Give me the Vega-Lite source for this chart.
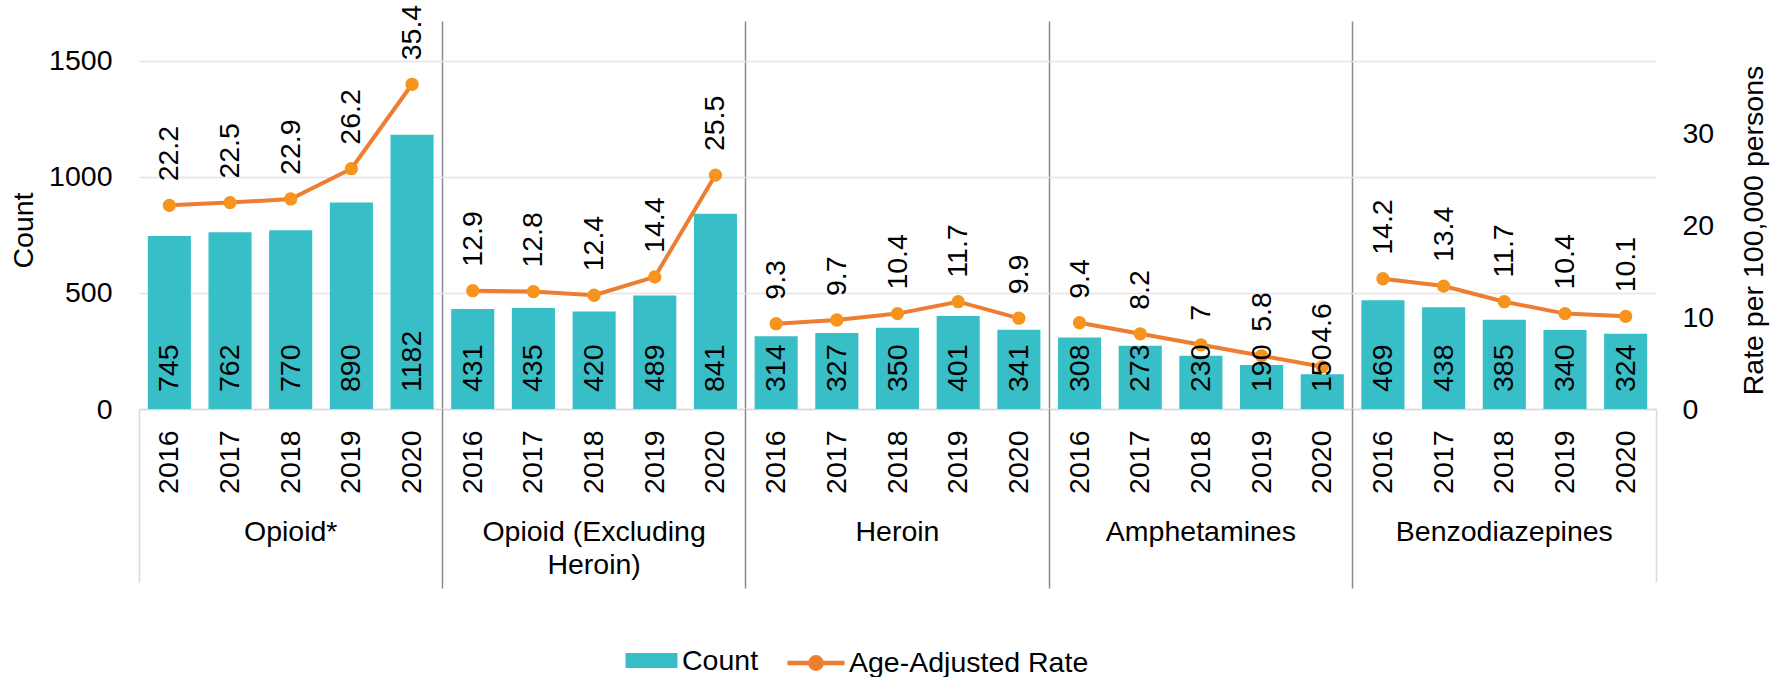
{
  "$schema": "https://vega.github.io/schema/vega-lite/v6.json",
  "width": 1517,
  "height": 388,
  "autosize": {"type": "none"},
  "padding": {"left": 139, "top": 21, "right": 127, "bottom": 268},
  "background": "white",
  "config": {
    "font": "Liberation Sans",
    "view": {"stroke": null},
    "axis": {
      "labelFont": "Liberation Sans",
      "titleFont": "Liberation Sans",
      "labelFontSize": 28.5,
      "titleFontSize": 28.5,
      "titleFontWeight": "normal",
      "labelColor": "#000000",
      "titleColor": "#000000",
      "labelOverlap": false
    },
    "legend": {"labelFont": "Liberation Sans", "labelFontSize": 28.5, "labelColor": "#000000", "labelLimit": 400, "padding": 0}
  },
  "data": {
    "values": [
      {"drug": "Opioid*", "year": "2016", "count": 745, "rate": 22.2},
      {"drug": "Opioid*", "year": "2017", "count": 762, "rate": 22.5},
      {"drug": "Opioid*", "year": "2018", "count": 770, "rate": 22.9},
      {"drug": "Opioid*", "year": "2019", "count": 890, "rate": 26.2},
      {"drug": "Opioid*", "year": "2020", "count": 1182, "rate": 35.4},
      {"drug": "Opioid (Excluding Heroin)", "year": "2016", "count": 431, "rate": 12.9},
      {"drug": "Opioid (Excluding Heroin)", "year": "2017", "count": 435, "rate": 12.8},
      {"drug": "Opioid (Excluding Heroin)", "year": "2018", "count": 420, "rate": 12.4},
      {"drug": "Opioid (Excluding Heroin)", "year": "2019", "count": 489, "rate": 14.4},
      {"drug": "Opioid (Excluding Heroin)", "year": "2020", "count": 841, "rate": 25.5},
      {"drug": "Heroin", "year": "2016", "count": 314, "rate": 9.3},
      {"drug": "Heroin", "year": "2017", "count": 327, "rate": 9.7},
      {"drug": "Heroin", "year": "2018", "count": 350, "rate": 10.4},
      {"drug": "Heroin", "year": "2019", "count": 401, "rate": 11.7},
      {"drug": "Heroin", "year": "2020", "count": 341, "rate": 9.9},
      {"drug": "Amphetamines", "year": "2016", "count": 308, "rate": 9.4},
      {"drug": "Amphetamines", "year": "2017", "count": 273, "rate": 8.2},
      {"drug": "Amphetamines", "year": "2018", "count": 230, "rate": 7},
      {"drug": "Amphetamines", "year": "2019", "count": 190, "rate": 5.8},
      {"drug": "Amphetamines", "year": "2020", "count": 150, "rate": 4.6},
      {"drug": "Benzodiazepines", "year": "2016", "count": 469, "rate": 14.2},
      {"drug": "Benzodiazepines", "year": "2017", "count": 438, "rate": 13.4},
      {"drug": "Benzodiazepines", "year": "2018", "count": 385, "rate": 11.7},
      {"drug": "Benzodiazepines", "year": "2019", "count": 340, "rate": 10.4},
      {"drug": "Benzodiazepines", "year": "2020", "count": 324, "rate": 10.1}
    ]
  },
  "transform": [
    {"calculate": "datum.drug + '|' + datum.year", "as": "slot"}
  ],
  "resolve": {"scale": {"y": "independent"}, "axis": {"x": "independent", "y": "independent"}},
  "layer": [
    {
      "mark": {"type": "bar", "width": {"band": 0.71}, "opacity": 1},
      "encoding": {
        "x": {
          "field": "slot", "type": "nominal", "sort": null,
          "scale": {"paddingInner": 0, "paddingOuter": 0},
          "axis": {
            "orient": "bottom",
            "title": null,
            "labelExpr": "split(datum.label, '|')[1]",
            "labelAngle": 270,
            "labelAlign": "right",
            "labelBaseline": "middle",
            "labelPadding": 21,
            "ticks": false,
            "grid": false,
            "domain": true,
            "domainColor": "#D9D9D9",
            "domainWidth": 1.5
          }
        },
        "y": {
          "field": "count", "type": "quantitative",
          "scale": {"domain": [0, 1672], "nice": false},
          "axis": {
            "orient": "left",
            "title": "Count",
            "values": [0, 500, 1000, 1500],
            "format": "d",
            "grid": true,
            "gridColor": "#E4E4E4",
            "gridWidth": 1.5,
            "domain": false,
            "ticks": false,
            "labelPadding": 27,
            "titleAngle": 270,
            "titleBaseline": "middle",
            "titleAlign": "center",
            "titleX": -116,
            "titleY": 209
          }
        },
        "fill": {
          "datum": "Count",
          "scale": {"range": ["#37BEC6"]},
          "legend": {
            "title": null,
            "orient": "none",
            "legendX": 484,
            "legendY": 611,
            "labelOffset": 2,
            "symbolType": "M-0.912,-0.263H0.912V0.263H-0.912Z",
            "symbolSize": 3249,
            "symbolStrokeWidth": 0,
            "symbolOpacity": 1
          }
        }
      }
    },
    {
      "resolve": {"axis": {"x": "independent", "y": "independent"}},
      "layer": [
        {
          "mark": {"type": "line", "strokeWidth": 4, "opacity": 1},
          "encoding": {
            "x": {
              "field": "slot", "type": "nominal", "sort": null,
              "scale": {"paddingInner": 0, "paddingOuter": 0},
              "axis": {
                "orient": "bottom",
                "title": null,
                "values": ["Opioid (Excluding Heroin)|2016", "Heroin|2016", "Amphetamines|2016", "Benzodiazepines|2016"],
                "bandPosition": 0,
                "labels": false,
                "ticks": true,
                "tickSize": 179,
                "tickColor": "#8A8A8A",
                "tickWidth": 1.5,
                "grid": true,
                "gridColor": "#8A8A8A",
                "gridWidth": 1.5,
                "domain": false
              }
            },
            "y": {
              "field": "rate", "type": "quantitative",
              "scale": {"domain": [0, 42.3], "nice": false},
              "axis": {
                "orient": "right",
                "title": "Rate per 100,000 persons",
                "values": [0, 10, 20, 30],
                "grid": false,
                "domain": false,
                "ticks": false,
                "labelPadding": 26,
                "titleAngle": 270,
                "titleBaseline": "middle",
                "titleAlign": "center",
                "titleX": 97,
                "titleY": 209
              }
            },
            "detail": {"field": "drug"},
            "stroke": {
              "datum": "Age-Adjusted Rate",
              "scale": {"range": ["#ED7D31"]},
              "legend": {
                "title": null,
                "orient": "none",
                "legendX": 646,
                "legendY": 611,
                "labelOffset": 2,
                "symbolType": "M-1,0L-0.2,0M0.2,0L1,0M0.2,0A0.2,0.2,0,1,1,-0.2,0A0.2,0.2,0,1,1,0.2,0M0.1,0A0.1,0.1,0,1,1,-0.1,0A0.1,0.1,0,1,1,0.1,0M0.03,0A0.03,0.03,0,1,1,-0.03,0A0.03,0.03,0,1,1,0.03,0",
                "symbolSize": 3249,
                "symbolStrokeWidth": 4.5,
                "symbolFillColor": "#F7941D",
                "symbolOpacity": 1
              }
            }
          }
        },
        {
          "mark": {"type": "circle", "size": 177, "color": "#F7941D", "opacity": 1},
          "encoding": {
            "x": {
              "field": "slot", "type": "nominal", "sort": null,
              "scale": {"paddingInner": 0, "paddingOuter": 0},
              "axis": {
                "orient": "bottom",
                "title": null,
                "values": ["Opioid*|2016"],
                "bandPosition": 0,
                "labels": false,
                "ticks": true,
                "tickSize": 173,
                "tickColor": "#D9D9D9",
                "tickWidth": 1.5,
                "grid": false,
                "domain": false
              }
            },
            "y": {"field": "rate", "type": "quantitative", "scale": {"domain": [0, 42.3], "nice": false}, "axis": null}
          }
        },
        {
          "mark": {"type": "text", "angle": 270, "align": "left", "baseline": "middle", "dx": 17, "font": "Liberation Sans", "fontSize": 28.5, "color": "#000000"},
          "encoding": {
            "x": {
              "field": "slot", "type": "nominal", "sort": null,
              "scale": {"paddingInner": 0, "paddingOuter": 0},
              "axis": {
                "orient": "bottom",
                "title": null,
                "values": ["Opioid*|2018", "Opioid (Excluding Heroin)|2018", "Heroin|2018", "Amphetamines|2018", "Benzodiazepines|2018"],
                "labelExpr": "datum.value == 'Opioid (Excluding Heroin)|2018' ? ['Opioid (Excluding', 'Heroin)'] : split(datum.value, '|')[0]",
                "labelAngle": 0,
                "labelAlign": "center",
                "labelBaseline": "top",
                "labelPadding": 108,
                "labelLineHeight": 33,
                "labelLimit": 400,
                "ticks": false,
                "grid": false,
                "domain": false
              }
            },
            "y": {"datum": 0, "type": "quantitative", "scale": {"domain": [0, 42.3], "nice": false}, "axis": null},
            "text": {"field": "count", "type": "quantitative"}
          }
        },
        {
          "mark": {"type": "text", "angle": 270, "align": "left", "baseline": "middle", "dx": 24, "font": "Liberation Sans", "fontSize": 28.5, "color": "#000000"},
          "encoding": {
            "x": {
              "field": "slot", "type": "nominal", "sort": null,
              "scale": {"paddingInner": 0, "paddingOuter": 0},
              "axis": {
                "orient": "bottom",
                "title": null,
                "values": ["Benzodiazepines|2020"],
                "bandPosition": 1,
                "labels": false,
                "ticks": true,
                "tickSize": 173,
                "tickColor": "#D9D9D9",
                "tickWidth": 1.5,
                "grid": false,
                "domain": false
              }
            },
            "y": {"field": "rate", "type": "quantitative", "scale": {"domain": [0, 42.3], "nice": false}, "axis": null},
            "text": {"field": "rate", "type": "quantitative"}
          }
        }
      ]
    }
  ]
}
